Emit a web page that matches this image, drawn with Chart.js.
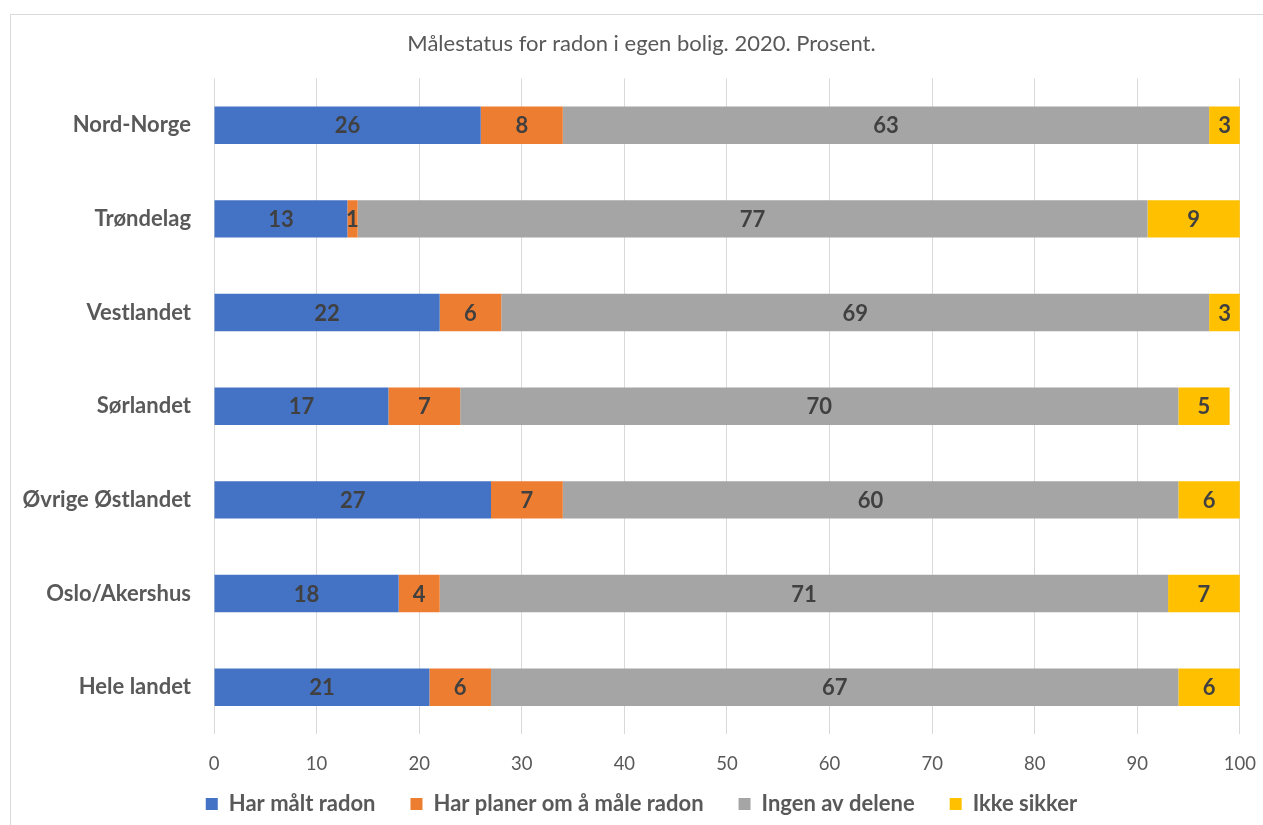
<!DOCTYPE html>
<html lang="no">
<head>
  <meta charset="UTF-8">
  <title>Målestatus for radon</title>
  <script src="https://cdn.jsdelivr.net/npm/chart.js"></script>
  <style>
    html, body { margin: 0; padding: 0; overflow: hidden; background: #fff; }
    #wrap { position: absolute; left: 0; top: 0; width: 1263px; height: 825px; }
  </style>
</head>
<body>
  <div id="wrap"><canvas id="radonChart"></canvas></div>

  <script>
    // data
    const regions = ['Nord-Norge', 'Trøndelag', 'Vestlandet', 'Sørlandet', 'Øvrige Østlandet', 'Oslo/Akershus', 'Hele landet'];
    const harMalt = [26, 13, 22, 17, 27, 18, 21];
    const harPlaner = [8, 1, 6, 7, 7, 4, 6];
    const ingen = [63, 77, 69, 70, 60, 71, 67];
    const ikkeSikker = [3, 9, 3, 5, 6, 7, 6];
    const xTicks = [0, 10, 20, 30, 40, 50, 60, 70, 80, 90, 100];

    const FONT = 'Lato, "Open Sans", sans-serif';

    // light grey frame around the chart
    const frame = {
      id: 'frame',
      beforeDraw(chart) {
        const ctx = chart.ctx;
        ctx.save();
        ctx.strokeStyle = '#d9d9d9';
        ctx.lineWidth = 1;
        ctx.strokeRect(10.5, 14.5, 1400, 1000);
        ctx.restore();
      }
    };

    // value labels in the middle of each segment
    const valueLabels = {
      id: 'valueLabels',
      afterDatasetsDraw(chart) {
        const ctx = chart.ctx;
        ctx.save();
        ctx.font = 'bold 22px ' + FONT;
        ctx.fillStyle = '#404040';
        ctx.textAlign = 'center';
        ctx.textBaseline = 'middle';
        chart.data.datasets.forEach((ds, i) => {
          chart.getDatasetMeta(i).data.forEach((bar, j) => {
            ctx.fillText(ds.data[j], (bar.x + bar.base) / 2, bar.y + 1);
          });
        });
        ctx.restore();
      }
    };

    new Chart(document.getElementById('radonChart'), {
      type: 'bar',
      data: {
        labels: regions,
        datasets: [
          { label: 'Har målt radon', data: harMalt, backgroundColor: '#4472C4' },
          { label: 'Har planer om å måle radon', data: harPlaner, backgroundColor: '#ED7D31' },
          { label: 'Ingen av delene', data: ingen, backgroundColor: '#A5A5A5' },
          { label: 'Ikke sikker', data: ikkeSikker, backgroundColor: '#FFC000' }
        ]
      },
      options: {
        indexAxis: 'y',
        responsive: true,
        maintainAspectRatio: false,
        animation: false,
        categoryPercentage: 1,
        barPercentage: 0.4,
        layout: { padding: { left: 20, right: 0, top: 0, bottom: 0 } },
        scales: {
          x: {
            stacked: true,
            min: 0,
            max: 100,
            afterBuildTicks(scale) { scale.ticks = xTicks.map(v => ({ value: v })); },
            afterFit(scale) { scale.height = 42; },
            grid: { color: '#d9d9d9', drawTicks: true, tickLength: 12, tickColor: 'rgba(0,0,0,0)' },
            border: { display: false },
            ticks: { color: '#595959', padding: 7, font: { family: FONT, size: 18.5 } }
          },
          y: {
            stacked: true,
            afterFit(scale) { scale.width = 194; },
            grid: { display: false, drawTicks: false },
            border: { display: false },
            ticks: { color: '#595959', padding: 23, font: { family: FONT, size: 22, weight: 'bold' } }
          }
        },
        plugins: {
          title: {
            display: true,
            text: 'Målestatus for radon i egen bolig. 2020. Prosent.',
            color: '#595959',
            font: { family: FONT, size: 22, weight: 'normal', lineHeight: 1.2 },
            padding: { top: 31, bottom: 21 }
          },
          legend: {
            position: 'bottom',
            // empty title with negative padding pulls the legend rows up,
            // so wide item spacing does not push the axis labels away
            title: { display: true, text: '', font: { size: 1, lineHeight: 1 }, padding: { top: -19, bottom: 0 } },
            labels: {
              color: '#595959',
              boxWidth: 12,
              boxHeight: 12,
              padding: 35,
              font: { family: FONT, size: 22, weight: 'bold' }
            }
          },
          tooltip: { enabled: false }
        }
      },
      plugins: [frame, valueLabels]
    });
  </script>
</body>
</html>
